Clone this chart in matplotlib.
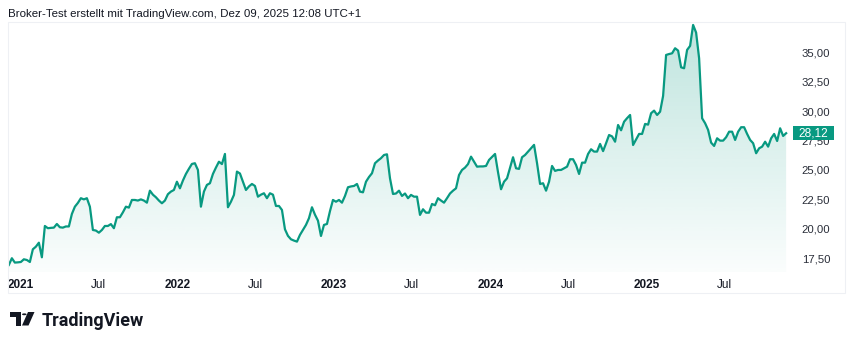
import matplotlib
matplotlib.use("Agg")
import matplotlib.pyplot as plt
import matplotlib.colors as mcolors
import matplotlib.transforms as mtransforms
from matplotlib.patches import Rectangle, Circle, Polygon
import numpy as np
import pandas as pd

title = "Broker-Test erstellt mit TradingView.com, Dez 09, 2025 12:08 UTC+1"

# weekly closes
start = "2020-12-04"
close = [
    16.93, 17.50, 17.13, 17.15, 17.18, 17.41, 17.35, 17.18, 18.26, 18.48,
    18.82, 17.58, 20.24, 20.05, 20.08, 20.10, 20.41, 20.13, 20.10, 20.20,
    20.20, 21.26, 21.88, 22.20, 22.60, 22.50, 22.60, 21.88, 19.90, 19.85,
    19.67, 19.90, 20.24, 20.24, 20.40, 20.05, 20.98, 20.98, 21.40, 21.88,
    21.80, 22.45, 22.45, 22.40, 22.50, 22.40, 22.22, 23.24, 22.90, 22.68,
    22.40, 22.17, 22.40, 22.94, 23.16, 23.30, 24.00, 23.44, 24.10, 24.66,
    25.10, 25.51, 25.57, 25.00, 21.88, 23.16, 23.73, 23.87, 24.66, 25.20,
    25.70, 25.50, 26.36, 21.83, 22.30, 22.88, 24.86, 24.70, 24.00, 23.30,
    23.60, 23.81, 23.64, 22.73, 22.90, 23.02, 22.60, 23.02, 22.90, 21.94,
    21.94, 21.60, 19.96, 19.40, 19.11, 19.00, 18.91, 19.48, 19.90, 20.33,
    20.90, 21.83, 21.20, 20.69, 19.39, 20.33, 20.41, 21.50, 22.45, 22.30,
    22.45, 22.22, 22.79, 23.53, 23.60, 23.64, 23.81, 23.16, 23.10, 24.00,
    24.40, 24.72, 25.57, 25.80, 26.00, 26.27, 26.33, 24.29, 22.96, 23.00,
    23.24, 22.79, 23.00, 22.60, 22.88, 22.73, 22.73, 21.18, 21.66, 21.37,
    21.37, 22.11, 22.00, 22.60, 22.40, 22.22, 22.60, 23.00, 23.24, 23.44,
    24.57, 25.00, 25.20, 25.50, 26.13, 25.70, 25.28, 25.30, 25.30, 25.34,
    25.85, 26.10, 26.36, 24.80, 23.36, 24.00, 24.29, 25.20, 26.08, 25.14,
    25.09, 26.08, 26.27, 26.56, 26.85, 27.13, 25.57, 23.81, 23.87, 23.24,
    24.00, 25.34, 24.92, 25.00, 25.00, 25.14, 25.28, 25.91, 25.91, 25.42,
    24.66, 25.62, 25.62, 26.36, 26.76, 26.56, 26.56, 27.21, 26.60, 27.27,
    27.97, 27.85, 27.40, 28.82, 28.37, 29.10, 29.40, 29.67, 27.12, 27.60,
    28.06, 28.06, 28.91, 28.85, 29.82, 30.04, 29.67, 29.95, 31.29, 34.77,
    34.85, 34.91, 35.34, 35.14, 33.72, 33.64, 35.20, 35.54, 37.32, 36.67,
    34.49, 29.39, 28.97, 28.40, 27.32, 27.04, 27.69, 27.49, 27.49, 27.78,
    28.25, 28.25, 27.55, 28.25, 28.63, 28.63, 28.06, 27.55, 27.27, 26.42,
    26.84, 26.98, 27.40, 26.98, 27.69, 28.06, 27.46, 28.54, 27.89, 28.12,
]

y_ticks = [17.5, 20.0, 22.5, 25.0, 27.5, 30.0, 32.5, 35.0]
x_ticks = ["2021-01-01", "2021-07-01", "2022-01-01", "2022-07-01", "2023-01-01",
           "2023-07-01", "2024-01-01", "2024-07-01", "2025-01-01", "2025-07-01"]
x_labels = ["2021", "Jul", "2022", "Jul", "2023", "Jul", "2024", "Jul", "2025", "Jul"]

GREEN = "#089981"
TEXT = "#131722"
FONT = "Liberation Sans"

W, H = 850, 344
YMIN, YMAX = 16.33, 37.57

dates = pd.date_range(start, periods=len(close), freq="7D")
last = close[-1]

plt.rcParams["font.family"] = [FONT, "DejaVu Sans"]

fig = plt.figure(figsize=(W / 100, H / 100), dpi=100)
fig.patch.set_facecolor("white")

# light frame around chart + time axis
fig.add_artist(Rectangle((8 / W, 1 - 293 / H), 837 / W, 271 / H,
                         transform=fig.transFigure, fill=False,
                         ec="#eef0f4", lw=0.8))

ax = fig.add_axes([8 / W, 1 - 272 / H, 782 / W, 250 / H])
ax.set_facecolor("none")

ax.plot(dates, close, color=GREEN, lw=1.6, solid_joinstyle="round", zorder=3)

# gradient fill below the line
poly = ax.fill_between(dates, close, YMIN, color="none", lw=0)
rgba = np.zeros((256, 1, 4))
rgba[..., :3] = mcolors.to_rgb(GREEN)
rgba[:, 0, 3] = np.linspace(0.02, 0.26, 256)
x0 = matplotlib.dates.date2num(dates[0])
x1 = matplotlib.dates.date2num(dates[-1])
img = ax.imshow(rgba, aspect="auto", origin="lower",
                extent=[x0, x1, YMIN, max(close)], zorder=1)
img.set_clip_path(poly.get_paths()[0], transform=ax.transData)

ax.set_xlim(dates[0] - pd.Timedelta(days=2), dates[-1] + pd.Timedelta(days=9))
ax.set_ylim(YMIN, YMAX)

for s in ax.spines.values():
    s.set_visible(False)

ax.set_xticks(pd.to_datetime(x_ticks))
ax.set_xticklabels(x_labels)
for lbl, txt in zip(ax.get_xticklabels(), x_labels):
    if txt != "Jul":
        lbl.set_fontweight("bold")
ax.tick_params(axis="x", length=0, pad=5, labelsize=8.5, colors=TEXT)

ax.yaxis.tick_right()
ax.set_yticks(y_ticks)
ax.set_yticklabels([f"{v:.2f}".replace(".", ",") for v in y_ticks])
ax.tick_params(axis="y", length=0, pad=8.5, labelsize=8.2, colors="#2a2e39")

# last price label
trans = mtransforms.blended_transform_factory(ax.transAxes, ax.transData)
box_h = 14 / 11.77
ax.add_patch(Rectangle((1.0035, last - box_h / 2), 0.0532, box_h,
                       transform=trans, clip_on=False, fc=GREEN, ec="none",
                       zorder=5))
ax.text(1.030, last, f"{last:.2f}".replace(".", ","), transform=trans,
        ha="center", va="center", color="white", fontsize=8.6, zorder=6,
        clip_on=False)

fig.text(8 / W, 1 - 14 / H, title, ha="left", va="center", fontsize=8.25,
         color=TEXT)


# TradingView logo
def px(x, y):
    return (x / W, 1 - y / H)


for shape in [
    Polygon([px(10, 312), px(20.5, 312), px(20.5, 316.5), px(10, 316.5)]),
    Polygon([px(15.5, 312), px(20.5, 312), px(20.5, 325.5), px(15.5, 325.5)]),
    Polygon([px(28, 312), px(34.5, 312), px(28.5, 325.5), px(22, 325.5)]),
]:
    shape.set_transform(fig.transFigure)
    shape.set_facecolor(TEXT)
    shape.set_edgecolor("none")
    fig.add_artist(shape)
fig.add_artist(Circle(px(24.3, 314.3), 2.3 / W, transform=fig.transFigure,
                      fc=TEXT, ec="none"))
fig.text(42 / W, 1 - 325.5 / H, "TradingView", ha="left", va="baseline",
         fontsize=13, fontweight="bold", color=TEXT,
         family=["Roboto", "DejaVu Sans"])

fig.savefig("out.png", dpi=100, facecolor="white")
